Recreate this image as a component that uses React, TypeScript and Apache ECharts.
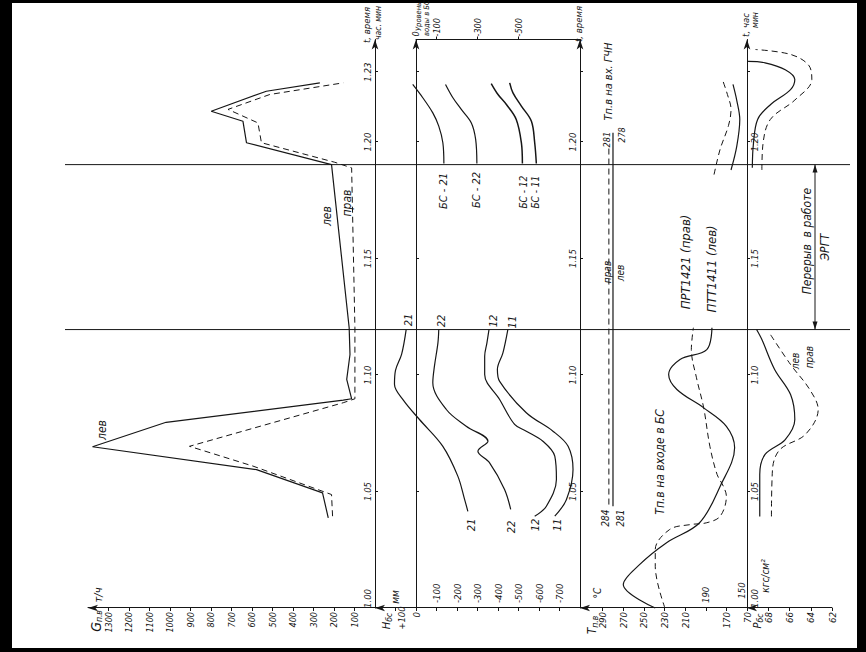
import React, { useEffect, useRef } from "react";
import * as echarts from "echarts";

// ---------- data (time in minutes after 1.00) ----------
const timeTicks = [0, 5, 10, 15, 20, 23];
const breakTimes = [11.95, 19.03];

const gTicks = [100, 200, 300, 400, 500, 600, 700, 800, 900, 1000, 1100, 1200, 1300];
const hInsideTicks = [-100, -200, -300, -400, -500, -600, -700];
const hOutsideTicks = [0];
const hTopLabels = [0, -100, -300, -500];
const tOutsideLabels = [290, 270, 250, 230, 210, 170];
const tInsideLabels = [190];
const tTicks = [170, 190, 210, 230, 250, 270, 290];
const pTicks = [70, 68, 66, 64, 62];

// G п.в, т/ч
const gLeft = [[3.87, 228], [4.94, 256], [5.94, 578], [6.92, 1378], [7.97, 1019], [8.92, 155], [8.98, 114], [9.81, 138], [10.88, 122], [12.03, 126], [19.03, 212], [19.97, 627], [20.89, 644], [21.32, 799], [22.18, 530], [22.54, 269]];
const gRight = [[3.94, 207], [4.87, 212], [6.09, 595], [6.94, 905], [8.81, 155], [8.98, 98], [12.03, 98], [18.89, 114], [19.13, 196], [19.97, 554], [20.82, 571], [21.4, 717], [22.04, 513], [22.54, 155]];

// H бс, мм
const h21a = [[4.15, -253], [4.66, -237], [5.66, -204], [6.94, -131], [8.09, -17], [8.9, 60], [9.6, 105], [10.2, 100], [10.9, 70], [11.95, 48]];
const h22a = [[4.23, -462], [5.09, -432], [6.23, -359], [6.73, -302], [7.16, -351], [7.8, -245], [8.52, -148], [9.67, -82], [10.38, -90], [11.38, -107], [11.95, -111]];
const h12a = [[3.94, -579], [4.37, -636], [5.52, -685], [6.52, -677], [7.16, -619], [7.59, -538], [7.88, -481], [8.95, -408], [10.02, -335], [10.81, -335], [11.38, -346], [11.95, -356]];
const h11a = [[3.94, -677], [4.66, -734], [5.94, -766], [6.94, -742], [7.59, -668], [8.38, -538], [9.73, -408], [10.24, -397], [10.95, -424], [11.95, -448]];
const h21b = [[19.08, -136], [19.97, -131], [20.68, -111], [21.25, -82], [21.9, -33], [22.47, 16]];
const h22b = [[19.08, -297], [20.11, -291], [20.82, -270], [21.4, -221], [21.9, -180], [22.47, -144]];
const h12b = [[19.08, -519], [19.97, -514], [20.97, -489], [21.61, -441], [22.04, -400], [22.51, -367]];
const h11b = [[19.08, -587], [19.97, -579], [20.89, -563], [21.54, -514], [22.11, -473], [22.54, -457]];

// T п.в, °C
const tLeftA = [[0, 239], [1.01, 270], [1.87, 254], [2.8, 228], [3.66, 196], [5.23, 176], [6.88, 162], [7.8, 170], [8.59, 192], [9.38, 218], [10.02, 226], [10.67, 215], [11.09, 189], [12.03, 184]];
const tRightA = [[0, 229.6], [1.79, 239], [2.51, 239], [3.37, 225], [3.58, 205], [3.66, 189], [3.94, 176], [4.8, 170], [5.23, 173], [5.73, 179], [6.94, 186], [8.59, 192], [9.88, 199], [11.09, 204], [12.03, 202]];
const tLeftB = [[18.8, 165.5], [19.8, 160], [20.97, 157], [21.8, 160], [22.47, 163.6]];
const tRightB = [[18.6, 182], [19.7, 176], [20.7, 168], [21.4, 165.5], [22.04, 169], [22.7, 174]];
const tInletRight = [[4.44, 284], [19.8, 284]];
const tInletLeft = [[4.37, 280], [20.4, 280]];

// P бс, кгс/см²
const pLeftA = [[3.93, 68.8], [5.73, 68.8], [6.59, 68.3], [7.23, 66.4], [8.09, 65.5], [9.16, 65.9], [10.24, 67.4], [11.52, 68.6], [11.95, 69.1]];
const pRightA = [[3.93, 67.7], [5.95, 67.6], [6.8, 66.9], [7.45, 64.5], [8.52, 63.3], [9.38, 64.1], [10.45, 65.9], [11.74, 67.8]];
const pLeftB = [[18.9, 69.5], [19.9, 69.4], [20.97, 69], [21.6, 67.8], [22.25, 65.9], [22.68, 65.5], [23.1, 66.4], [23.4, 68.3], [23.46, 69.9]];
const pRightB = [[18.8, 68.6], [19.9, 68.5], [20.97, 67.8], [21.8, 65.5], [22.68, 63.9], [23.3, 64.2], [23.76, 65.9], [23.97, 69.2]];

// in-panel labels: [text, xAxisIndex, yAxisIndex, time, value, fontSize]
const panelLabels: [string, number, number, number, number, number][] = [
  ["лев", 0, 0, 7.64, 1332, 12],
  ["лев", 0, 0, 16.82, 234, 12],
  ["прав", 0, 0, 17.38, 137, 12],
  ["21", 1, 1, 3.56, -273, 11],
  ["22", 1, 1, 3.48, -468, 11],
  ["12", 1, 1, 3.56, -585, 11],
  ["11", 1, 1, 3.56, -688, 11],
  ["21", 1, 1, 12.36, 39, 11],
  ["22", 1, 1, 12.32, -122, 11],
  ["12", 1, 1, 12.32, -376, 11],
  ["11", 1, 1, 12.27, -473, 11],
  ["БС - 21", 1, 1, 17.9, -132, 11],
  ["БС - 22", 1, 1, 17.94, -293, 11],
  ["БС - 12", 1, 1, 17.85, -522, 10],
  ["БС - 11", 1, 1, 17.85, -585, 10],
  ["Тп.в на вх. ГЧН", 3, 4, 22.6, 284.8, 11],
  ["281", 3, 4, 20.1, 285.5, 9],
  ["278", 3, 4, 20.3, 271, 9],
  ["прав", 3, 4, 14.42, 285.8, 10],
  ["лев", 3, 4, 14.38, 273, 10],
  ["284", 3, 4, 3.86, 287.5, 10],
  ["281", 3, 4, 3.86, 273, 10],
  ["Тп.в на входе в БС", 3, 4, 6.27, 234, 12],
  ["ПРТ1421 (прав)", 3, 4, 14.85, 210, 13],
  ["ПТТ1411 (лев)", 3, 4, 14.55, 184, 13],
  ["150", 3, 4, 0.75, 155.5, 9.5],
  ["лев", 4, 6, 10.6, 65.4, 10],
  ["прав", 4, 6, 10.77, 64.1, 10],
];

// axis titles, fixed positions in the (unrotated) chart frame: [text, x, y, fontSize, align]
const axisTitles: [string, number, number, number, string][] = [
  ["т/ч", 57, 98, 11, "center"],
  ["мм", 55, 395, 10, "center"],
  ["+100", 34, 401, 9.5, "center"],
  ["°C", 59, 597, 10, "center"],
  ["кгс/см²", 76, 765, 10, "center"],
  ["t, время", 627, 366, 9.5, "center"],
  ["час. мин", 629, 378, 8.5, "center"],
  ["Уровень", 621, 418, 7.5, "left"],
  ["воды в БС", 616, 426, 7.5, "left"],
  ["t, время", 628, 578, 9.5, "center"],
  ["t, час", 627, 745, 9.5, "center"],
  ["мин", 632, 755, 8.5, "center"],
];

// ---------- styles ----------
const FONT = "'DejaVu Sans Condensed','DejaVu Sans',sans-serif";
const INK = "#161616";
const W = 652; // chart frame width (screen height)

const fmtTime = (m: number) => `1.${String(Math.round(m)).padStart(2, "0")}`;
const fmtNum = (v: number) => String(v);
const lbl = { fontFamily: FONT, fontStyle: "italic", fontSize: 9.5, color: INK } as any;
const lineAx = (arrow: boolean) => ({
  show: true,
  onZero: false,
  symbol: arrow ? ["none", "arrow"] : ["none", "none"],
  symbolSize: [5, 10],
  lineStyle: { color: INK, width: 1 },
});

function timeAxis(gridIndex: number, opts: any) {
  return {
    type: "value",
    gridIndex,
    min: 0,
    max: 24.4,
    splitLine: { show: false },
    axisLine: lineAx(true),
    axisTick: { show: true, customValues: timeTicks, length: 3, lineStyle: { color: INK } },
    axisLabel: { show: false },
    ...opts,
  };
}

function solid(data: number[][], xi: number, yi: number, smooth = 0.35, width = 1.2) {
  return { type: "line", data, xAxisIndex: xi, yAxisIndex: yi, symbol: "none", smooth, lineStyle: { color: INK, width }, silent: true };
}
function dashed(data: number[][], xi: number, yi: number, smooth = 0.35) {
  return { type: "line", data, xAxisIndex: xi, yAxisIndex: yi, symbol: "none", smooth, lineStyle: { color: INK, width: 1, type: [6, 4] }, silent: true };
}

function buildOption() {
  const gridBase = { left: 44, right: 39.5, containLabel: false };
  return {
    animation: false,
    backgroundColor: "transparent",
    grid: [
      { ...gridBase, top: 88, height: 287 },
      { ...gridBase, top: 375, height: 205 },
      { ...gridBase, top: 416, height: 164 },
      { ...gridBase, top: 580, height: 167 },
      { ...gridBase, top: 747, height: 85 },
    ],
    xAxis: [
      timeAxis(0, {
        position: "bottom",
        axisLabel: { ...lbl, inside: true, margin: 3, customValues: timeTicks, formatter: fmtTime, alignMinLabel: "left" },
      }),
      timeAxis(1, {
        position: "bottom",
        axisLabel: { ...lbl, inside: true, margin: 3, customValues: [5, 10, 15, 20], formatter: fmtTime },
      }),
      timeAxis(2, { position: "top", axisTick: { show: true, customValues: [5, 10, 15, 20, 23], length: 3, inside: true, lineStyle: { color: INK } } }),
      timeAxis(3, {
        position: "bottom",
        axisLabel: { ...lbl, margin: 2, customValues: [0, 5, 10, 15, 20], formatter: fmtTime, alignMinLabel: "left" },
      }),
      timeAxis(4, { show: false }),
    ],
    yAxis: [
      {
        type: "value", gridIndex: 0, min: 0, max: 1400, position: "left",
        splitLine: { show: false }, axisLine: lineAx(true),
        axisTick: { show: true, customValues: gTicks, length: 3, lineStyle: { color: INK } },
        axisLabel: { ...lbl, fontSize: 9, margin: 4, customValues: gTicks, formatter: fmtNum },
      },
      {
        type: "value", gridIndex: 1, min: -800, max: 200, position: "left",
        splitLine: { show: false }, axisLine: lineAx(true),
        axisTick: { show: true, customValues: [100, 0, ...hInsideTicks], length: 3, lineStyle: { color: INK } },
        axisLabel: { ...lbl, inside: true, margin: 5, customValues: hInsideTicks, formatter: fmtNum },
      },
      {
        type: "value", gridIndex: 1, min: -800, max: 200, position: "left",
        splitLine: { show: false }, axisLine: { show: false }, axisTick: { show: false },
        axisLabel: { ...lbl, margin: 4, customValues: hOutsideTicks, formatter: fmtNum },
      },
      {
        type: "value", gridIndex: 2, min: -800, max: 0, position: "right",
        splitLine: { show: false }, axisLine: lineAx(false),
        axisTick: { show: true, customValues: [-100, -300, -500], length: 3, lineStyle: { color: INK } },
        axisLabel: { ...lbl, fontSize: 9, margin: 3, customValues: hTopLabels, formatter: fmtNum },
      },
      {
        type: "value", gridIndex: 3, min: 150, max: 312, position: "left",
        splitLine: { show: false }, axisLine: lineAx(true),
        axisTick: { show: true, customValues: tTicks, length: 3, lineStyle: { color: INK } },
        axisLabel: { ...lbl, margin: 4, customValues: tOutsideLabels, formatter: fmtNum },
      },
      {
        type: "value", gridIndex: 3, min: 150, max: 312, position: "left",
        splitLine: { show: false }, axisLine: { show: false }, axisTick: { show: false },
        axisLabel: { ...lbl, inside: true, margin: 5, customValues: tInsideLabels, formatter: fmtNum },
      },
      {
        type: "value", gridIndex: 4, min: 62, max: 70, position: "left",
        splitLine: { show: false }, axisLine: lineAx(true),
        axisTick: { show: true, customValues: pTicks, length: 3, lineStyle: { color: INK } },
        axisLabel: { ...lbl, margin: 4, customValues: pTicks, formatter: fmtNum },
      },
    ],
    series: [
      solid(gLeft, 0, 0, 0),
      dashed(gRight, 0, 0, 0),
      solid(h21a, 1, 1),
      solid(h22a, 1, 1),
      solid(h12a, 1, 1),
      solid(h11a, 1, 1),
      solid(h21b, 1, 1),
      solid(h22b, 1, 1),
      solid(h12b, 1, 1, 0.35, 1.5),
      solid(h11b, 1, 1, 0.35, 1.5),
      solid(tLeftA, 3, 4),
      dashed(tRightA, 3, 4),
      solid(tLeftB, 3, 4),
      dashed(tRightB, 3, 4),
      solid(tInletLeft, 3, 4, 0),
      dashed(tInletRight, 3, 4, 0),
      solid(pLeftA, 4, 6),
      dashed(pRightA, 4, 6),
      solid(pLeftB, 4, 6),
      dashed(pRightB, 4, 6),
    ],
  };
}

function txt(text: string, x: number, y: number, size: number, align = "center") {
  return {
    type: "text", x, y, silent: true,
    style: { text, fill: INK, fontFamily: FONT, fontStyle: "italic", fontSize: size, align, verticalAlign: "middle" },
  };
}

function subTitle(main: string, sub: string, x: number, y: number, size: number) {
  return {
    type: "text", x, y, silent: true,
    style: {
      text: `{a|${main}}{b|${sub}}`, align: "center", verticalAlign: "middle", fill: INK,
      rich: {
        a: { fontFamily: FONT, fontStyle: "italic", fontSize: size, fill: INK },
        b: { fontFamily: FONT, fontStyle: "italic", fontSize: 8.5, fill: INK, padding: [5, 0, 0, 0] },
      },
    },
  };
}

function buildGraphics(chart: any) {
  const X = (xi: number, t: number) => chart.convertToPixel({ xAxisIndex: xi }, t) as number;
  const Y = (yi: number, v: number) => chart.convertToPixel({ yAxisIndex: yi }, v) as number;
  const els: any[] = [];
  // break lines
  breakTimes.forEach((t) => {
    const x = X(0, t);
    els.push({ type: "line", silent: true, shape: { x1: x, y1: 65, x2: x, y2: 850 }, style: { stroke: INK, lineWidth: 1 } });
  });
  // "Перерыв в работе ЭРГТ" arrow
  const xa = X(0, breakTimes[0]);
  const xb = X(0, breakTimes[1]);
  const ya = 815;
  els.push({ type: "line", silent: true, shape: { x1: xa, y1: ya, x2: xb, y2: ya }, style: { stroke: INK, lineWidth: 1 } });
  els.push({ type: "polygon", silent: true, shape: { points: [[xa, ya], [xa + 8, ya - 2.5], [xa + 8, ya + 2.5]] }, style: { fill: INK } });
  els.push({ type: "polygon", silent: true, shape: { points: [[xb, ya], [xb - 8, ya - 2.5], [xb - 8, ya + 2.5]] }, style: { fill: INK } });
  els.push(txt("Перерыв  в работе", (xa + xb) / 2 + 6, ya - 8, 12));
  els.push(txt("ЭРГТ", (xa + xb) / 2, ya + 10, 12));
  // axis titles
  els.push(subTitle("G", "п.в", 31, 96, 14));
  els.push(subTitle("H", "бс", 31, 386, 11));
  els.push(subTitle("T", "п.в", 27, 592, 12));
  els.push(subTitle("P", "бс", 31, 757, 11));
  axisTitles.forEach(([s, x, y, f, a]) => els.push(txt(s, x, y, f, a)));
  panelLabels.forEach(([s, xi, yi, t, v, f]) => els.push(txt(s, X(xi, t), Y(yi, v), f)));
  return els;
}

export default function App() {
  const ref = useRef<HTMLDivElement>(null);
  useEffect(() => {
    const chart = echarts.init(ref.current!, null, { renderer: "svg" });
    chart.setOption(buildOption() as any);
    chart.setOption({ graphic: buildGraphics(chart) } as any);
    return () => chart.dispose();
  }, []);
  return (
    <div style={{ position: "fixed", left: 0, top: 0, width: 866, height: 652, background: "#000", overflow: "hidden" }}>
      <div style={{ position: "absolute", left: 12, top: 3, width: 845, height: 645, background: "#fff" }} />
      <div
        ref={ref}
        style={{
          position: "absolute", left: 0, top: 0, width: W, height: 866,
          transformOrigin: "0 0", transform: `translateY(${W}px) rotate(-90deg)`,
        }}
      />
    </div>
  );
}
